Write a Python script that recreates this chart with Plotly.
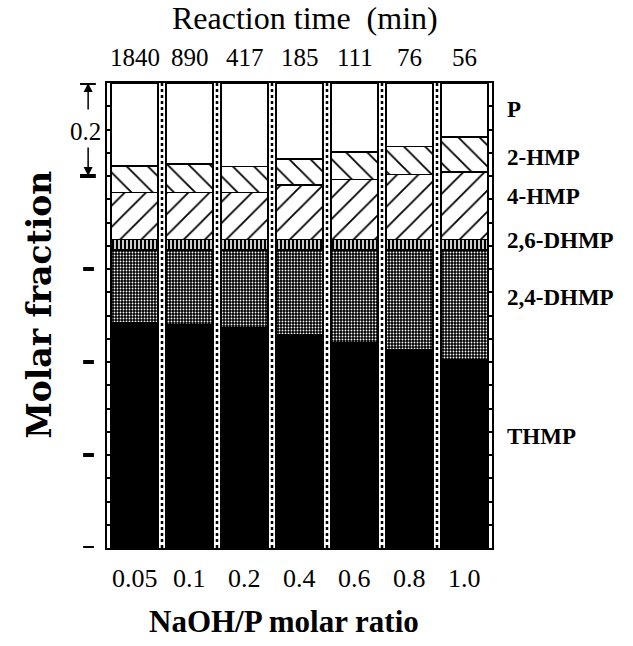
import plotly.graph_objects as go

ratios = ["0.05", "0.1", "0.2", "0.4", "0.6", "0.8", "1.0"]
times = ["1840", "890", "417", "185", "111", "76", "56"]
THMP = [0.484, 0.480, 0.473, 0.458, 0.441, 0.426, 0.404]
DHMP24 = [0.157, 0.161, 0.168, 0.183, 0.200, 0.215, 0.237]
DHMP26 = [0.022, 0.022, 0.022, 0.022, 0.022, 0.022, 0.022]
HMP4 = [0.101, 0.101, 0.101, 0.118, 0.129, 0.140, 0.146]
HMP2 = [0.058, 0.062, 0.056, 0.056, 0.060, 0.060, 0.075]
P = [0.178, 0.174, 0.180, 0.163, 0.148, 0.137, 0.116]
series_names = ["THMP", "2,4-DHMP", "2,6-DHMP", "4-HMP", "2-HMP", "P"]
label_y = [0.239, 0.538, 0.662, 0.755, 0.839, 0.942]

SERIF = "Liberation Serif"
x = list(range(len(ratios)))
line = dict(color="black", width=1.5)

styles = [
    dict(color="black"),
    dict(color="black", pattern=dict(shape=".", fgcolor="white", bgcolor="black",
                                     size=3, solidity=0.3, fillmode="replace")),
    dict(color="white", pattern=dict(shape="|", fgcolor="black", bgcolor="white",
                                     size=4, solidity=0.6, fillmode="replace")),
    dict(color="white", pattern=dict(shape="/", fgcolor="black", bgcolor="white",
                                     size=15, solidity=0.12, fillmode="replace")),
    dict(color="white", pattern=dict(shape="\\", fgcolor="black", bgcolor="white",
                                     size=15, solidity=0.12, fillmode="replace")),
    dict(color="white"),
]

fig = go.Figure()
for name, vals, st in zip(series_names, [THMP, DHMP24, DHMP26, HMP4, HMP2, P], styles):
    fig.add_trace(go.Bar(x=x, y=vals, name=name, width=0.86,
                         marker=dict(line=line, **st), showlegend=False))

# dotted separators between bars
for i in range(len(ratios) - 1):
    fig.add_shape(type="line", xref="x", yref="y", x0=i + 0.5, x1=i + 0.5, y0=0, y1=1,
                  line=dict(color="black", width=2.5, dash="dot"))

# outer detached left ticks
for yv in [0, 0.2, 0.4, 0.6]:
    fig.add_shape(type="line", xref="paper", yref="y", x0=-0.062, x1=-0.034, y0=yv, y1=yv,
                  line=dict(color="black", width=4))
for yv in [0.8, 1.0]:
    fig.add_shape(type="line", xref="paper", yref="y", x0=-0.070, x1=-0.029, y0=yv, y1=yv,
                  line=dict(color="black", width=4))

ann = []
# 0.2 scale indicator
ann.append(dict(x=-0.049, y=1.0, xref="paper", yref="y", text="", showarrow=True,
                arrowhead=2, arrowsize=1.2, arrowwidth=1.5, ax=0, ay=28, arrowcolor="black"))
ann.append(dict(x=-0.049, y=0.8, xref="paper", yref="y", text="", showarrow=True,
                arrowhead=2, arrowsize=1.2, arrowwidth=1.5, ax=0, ay=-30, arrowcolor="black"))
ann.append(dict(x=-0.055, y=0.895, xref="paper", yref="y", text="0.2", showarrow=False,
                xanchor="center", yanchor="middle",
                font=dict(family=SERIF, size=25, color="black")))

for i in x:
    ann.append(dict(x=i, y=-0.065, xref="x", yref="paper", text=ratios[i], showarrow=False,
                    xanchor="center", yanchor="middle",
                    font=dict(family=SERIF, size=26, color="black")))
    ann.append(dict(x=i, y=1.054, xref="x", yref="paper", text=times[i], showarrow=False,
                    xanchor="center", yanchor="middle",
                    font=dict(family=SERIF, size=25, color="black")))

for name, yv in zip(series_names, label_y):
    ann.append(dict(x=1.034, y=yv, xref="paper", yref="y", text="<b>" + name + "</b>",
                    showarrow=False, xanchor="left", yanchor="middle",
                    font=dict(family=SERIF, size=23, color="black")))

ann.append(dict(x=0.514, y=1.14, xref="paper", yref="paper", text="Reaction time  (min)",
                showarrow=False, xanchor="center", yanchor="middle",
                font=dict(family=SERIF, size=32, color="black")))
ann.append(dict(x=0.46, y=-0.159, xref="paper", yref="paper", text="<b>NaOH/P molar ratio</b>",
                showarrow=False, xanchor="center", yanchor="middle",
                font=dict(family=SERIF, size=31, color="black")))
ann.append(dict(x=-0.174, y=0.523, xref="paper", yref="paper", text="<b>Molar fraction</b>",
                showarrow=False, textangle=-90, xanchor="center", yanchor="middle",
                font=dict(family="DejaVu Serif", size=33, color="black")))

fig.update_layout(
    width=633, height=646,
    margin=dict(l=107, r=141, t=83, b=98),
    barmode="stack",
    plot_bgcolor="white", paper_bgcolor="white",
    annotations=ann,
    xaxis=dict(range=[-0.5, 6.5], showticklabels=False, showgrid=False, zeroline=False,
               showline=True, mirror=True, linecolor="black", linewidth=2, ticks=""),
    yaxis=dict(range=[0, 1], showticklabels=False, showgrid=False, zeroline=False,
               showline=True, mirror="ticks", linecolor="black", linewidth=2,
               ticks="inside", dtick=0.05, ticklen=5, tickwidth=1.5, tickcolor="black"),
)

fig.write_html("out.html")
